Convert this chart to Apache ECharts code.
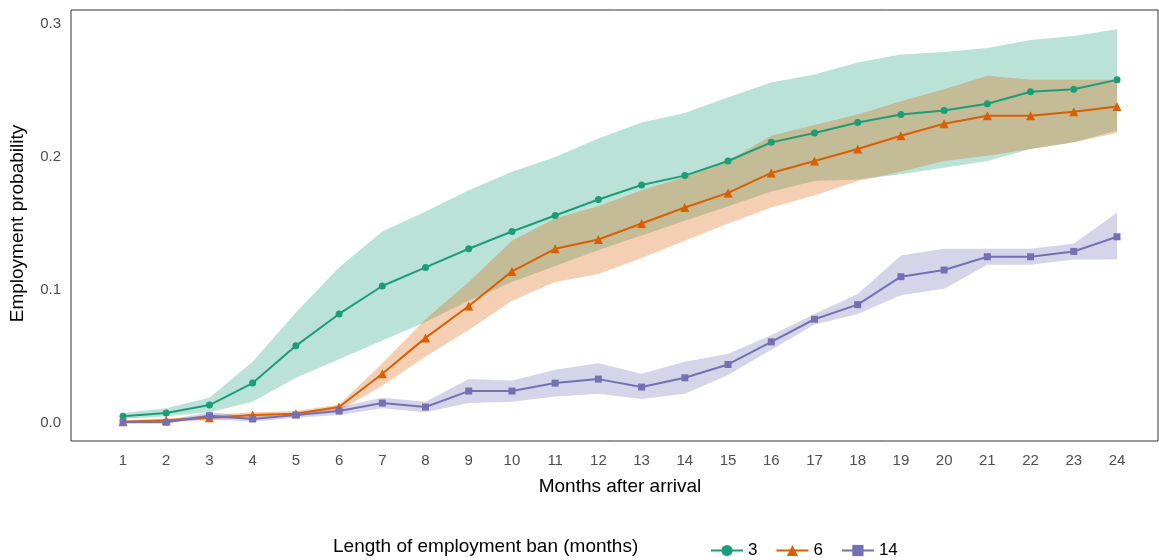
<!DOCTYPE html><html><head><meta charset="utf-8"><script src="https://cdn.jsdelivr.net/npm/echarts@6/dist/echarts.min.js"></script></head><body style="margin:0"><div id="c" style="width:1159px;height:560px"></div><script>
const months=[1,2,3,4,5,6,7,8,9,10,11,12,13,14,15,16,17,18,19,20,21,22,23,24];
const g3=[0.005,0.0075,0.0135,0.030,0.058,0.082,0.103,0.117,0.131,0.144,0.156,0.168,0.179,0.186,0.197,0.211,0.218,0.226,0.232,0.235,0.240,0.249,0.251,0.258];
const g3hi=[0.0075,0.011,0.019,0.046,0.083,0.117,0.144,0.159,0.175,0.189,0.2,0.214,0.226,0.233,0.245,0.256,0.262,0.271,0.277,0.279,0.282,0.288,0.291,0.296];
const g3lo=[0.003,0.005,0.008,0.016,0.034,0.048,0.062,0.076,0.092,0.106,0.118,0.130,0.141,0.152,0.163,0.174,0.182,0.183,0.187,0.192,0.197,0.206,0.211,0.22];
const g6=[0.001,0.002,0.004,0.006,0.007,0.012,0.037,0.064,0.088,0.114,0.131,0.138,0.150,0.162,0.173,0.188,0.197,0.206,0.216,0.225,0.231,0.231,0.234,0.238];
const g6hi=[0.002,0.003,0.006,0.008,0.009,0.014,0.045,0.078,0.106,0.137,0.154,0.163,0.175,0.185,0.197,0.216,0.224,0.232,0.242,0.251,0.261,0.258,0.258,0.258];
const g6lo=[0,0.001,0.002,0.004,0.005,0.009,0.028,0.05,0.07,0.092,0.106,0.112,0.124,0.137,0.15,0.162,0.171,0.182,0.189,0.197,0.201,0.206,0.211,0.218];
const g14=[0.0005,0.0005,0.0055,0.003,0.006,0.009,0.015,0.012,0.024,0.024,0.030,0.033,0.027,0.034,0.044,0.061,0.078,0.089,0.110,0.115,0.125,0.125,0.129,0.140];
const g14hi=[0.002,0.002,0.008,0.005,0.008,0.012,0.019,0.016,0.033,0.032,0.040,0.045,0.037,0.046,0.052,0.066,0.082,0.097,0.126,0.131,0.131,0.131,0.135,0.158];
const g14lo=[0,0,0.003,0.001,0.004,0.006,0.011,0.008,0.015,0.016,0.020,0.022,0.018,0.022,0.036,0.055,0.074,0.082,0.096,0.101,0.119,0.119,0.123,0.123];
const groups=[['3',g3,g3lo,g3hi,'#1b9e77','circle'],['6',g6,g6lo,g6hi,'#d95f02','triangle'],['14',g14,g14lo,g14hi,'#7570b3','rect']];
const series=[];
groups.forEach(([n,v,lo,hi,col,sym])=>{
 series.push({type:'line',stack:'b'+n,data:lo,lineStyle:{opacity:0},symbol:'none',silent:true,z:1});
 series.push({type:'line',stack:'b'+n,data:hi.map((h,i)=>+(h-lo[i]).toFixed(4)),lineStyle:{opacity:0},symbol:'none',areaStyle:{color:col,opacity:0.3},silent:true,z:1});
});
groups.forEach(([n,v,lo,hi,col,sym])=>{
 series.push({name:n,type:'line',data:v,symbol:sym,symbolSize:sym==='triangle'?9:7,itemStyle:{color:col},lineStyle:{color:col,width:2},z:3});
});
const ch=echarts.init(document.getElementById('c'));
ch.setOption({
 animation:false,
 grid:{left:121,right:42,top:24,bottom:137},
 xAxis:{type:'category',data:months,boundaryGap:false,axisLine:{show:false},axisTick:{show:false},splitLine:{show:false},
  axisLabel:{margin:30,color:'#4d4d4d',fontSize:15,fontFamily:'Liberation Sans'},
  name:'Months after arrival',nameLocation:'middle',nameGap:54,nameTextStyle:{fontSize:19,color:'#000',fontFamily:'Liberation Sans'}},
 yAxis:{type:'value',min:0,max:0.3,interval:0.1,axisLine:{show:false},axisTick:{show:false},splitLine:{show:false},
  axisLabel:{margin:62,color:'#4d4d4d',fontSize:15,fontFamily:'Liberation Sans',formatter:v=>v.toFixed(1)},
  name:'Employment probability',nameLocation:'middle',nameGap:96,nameTextStyle:{fontSize:19,color:'#000',fontFamily:'Liberation Sans'}},
 legend:{data:['3','6','14'],left:705,top:537,itemWidth:32,itemHeight:14,itemGap:18,textStyle:{fontSize:17,color:'#000',fontFamily:'Liberation Sans'}},
 graphic:[
  {type:'rect',shape:{x:71,y:10,width:1087,height:431},style:{fill:'none',stroke:'#333',lineWidth:1},silent:true},
  {type:'text',left:333,top:537,style:{text:'Length of employment ban (months)',fontSize:19,fill:'#000',fontFamily:'Liberation Sans'}}
 ],
 series
});
</script></body></html>
